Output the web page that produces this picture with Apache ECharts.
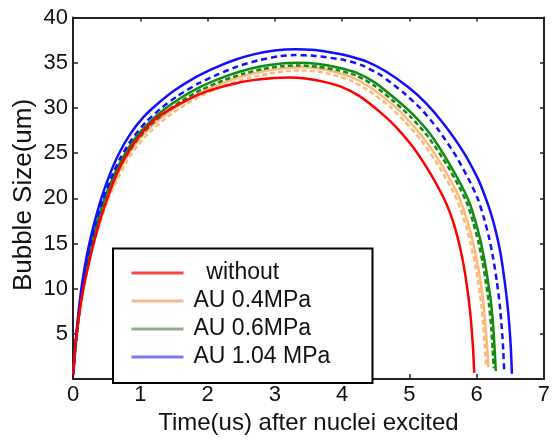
<!DOCTYPE html>
<html>
<head>
<meta charset="utf-8">
<script src="https://cdn.jsdelivr.net/npm/echarts@6/dist/echarts.min.js"></script>
<style>
html,body{margin:0;padding:0;background:#fff;}
#chart{width:553px;height:440px;}
</style>
</head>
<body>
<div id="chart"></div>
<script>
// ---- data (time in us, bubble size in um) ----
var xTicks = [0, 1, 2, 3, 4, 5, 6, 7];
var yTicks = [0, 5, 10, 15, 20, 25, 30, 35, 40];
var legendNames = ['without', 'AU 0.4MPa', 'AU 0.6MPa', 'AU 1.04 MPa'];

var redWithout = [[0.005,0.5],[0.03,3.2],[0.06,5.4],[0.10,7.6],[0.15,9.8],[0.22,12.3],[0.30,14.8],[0.40,17.5],[0.51,20.0],[0.65,22.7],[0.81,25.0],[1.0,27.0],[1.2,28.6],[1.41,29.7],[1.7,30.9],[2.0,31.85],[2.38,32.65],[2.7,33.1],[3.0,33.32],[3.2,33.37],[3.45,33.25],[3.75,32.85],[4.0,32.3],[4.26,31.3],[4.57,29.5],[4.8,27.9],[5.04,25.8],[5.3,22.9],[5.5,20.2],[5.6,18.5],[5.68,16.7],[5.75,14.7],[5.81,12.5],[5.86,10.1],[5.90,7.7],[5.93,5.2],[5.95,3.0],[5.965,0.7]];

var orange04a = [[0.008,0.8],[0.03,3],[0.06,5.1],[0.1,7.5],[0.145,9.8],[0.2,11.9],[0.26,13.9],[0.34,16.2],[0.49,19.6],[0.63,22.1],[0.78,24.3],[0.96,26.3],[1.16,27.9],[1.4,29.4],[1.66,30.7],[1.96,31.9],[2.28,32.9],[2.6,33.65],[2.9,34.15],[3.15,34.42],[3.4,34.5],[3.65,34.35],[3.88,34.0],[4.14,33.4],[4.40,32.36],[4.73,30.5],[4.96,28.85],[5.21,26.7],[5.48,23.7],[5.69,20.9],[5.79,19.1],[5.87,17.3],[5.945,15.2],[6.01,12.9],[6.06,10.8],[6.10,8.5],[6.13,6.0],[6.155,3.6],[6.175,1.3]];
var orange04b = [[0.008,0.8],[0.033,3],[0.064,5.1],[0.105,7.5],[0.15,9.8],[0.206,11.9],[0.27,13.9],[0.35,16.1],[0.5,19.4],[0.645,21.9],[0.8,24.1],[0.98,26.0],[1.18,27.6],[1.42,29.1],[1.68,30.4],[1.98,31.6],[2.3,32.6],[2.62,33.33],[2.92,33.8],[3.17,34.08],[3.4,34.15],[3.65,34.0],[3.87,33.65],[4.12,33.05],[4.38,32.0],[4.71,30.15],[4.93,28.5],[5.18,26.4],[5.45,23.4],[5.66,20.6],[5.76,18.8],[5.84,17.0],[5.915,14.9],[5.98,12.6],[6.03,10.5],[6.07,8.2],[6.10,5.8],[6.123,3.5],[6.142,1.3]];

var green06a = [[0.006,0.8],[0.026,2.8],[0.056,5],[0.095,7.6],[0.135,9.9],[0.18,11.9],[0.24,14.0],[0.32,16.4],[0.46,19.8],[0.6,22.4],[0.74,24.5],[0.92,26.6],[1.12,28.3],[1.35,29.8],[1.6,31.1],[1.9,32.35],[2.2,33.3],[2.5,34.05],[2.8,34.6],[3.1,34.92],[3.35,35.0],[3.65,34.85],[3.95,34.45],[4.21,33.9],[4.49,32.8],[4.81,30.9],[5.05,29.3],[5.31,27.1],[5.58,24.0],[5.79,21.2],[5.90,19.4],[5.98,17.5],[6.055,15.4],[6.118,13.1],[6.17,10.8],[6.215,8.4],[6.248,5.7],[6.268,3.3],[6.285,0.9]];
var green06b = [[0.006,0.8],[0.028,2.8],[0.058,5],[0.098,7.6],[0.14,9.9],[0.185,11.9],[0.245,14.0],[0.33,16.4],[0.47,19.7],[0.61,22.2],[0.76,24.3],[0.94,26.3],[1.14,28.0],[1.37,29.5],[1.62,30.8],[1.92,32.05],[2.22,33.0],[2.52,33.75],[2.82,34.3],[3.1,34.62],[3.35,34.7],[3.65,34.55],[3.95,34.15],[4.2,33.6],[4.47,32.5],[4.78,30.65],[5.02,29.0],[5.28,26.8],[5.55,23.8],[5.76,21.0],[5.87,19.2],[5.95,17.3],[6.025,15.2],[6.09,12.9],[6.14,10.6],[6.185,8.2],[6.218,5.6],[6.238,3.3],[6.255,1.2]];

var blue104a = [[0.004,0.5],[0.02,2.5],[0.05,5],[0.085,7.6],[0.126,10.1],[0.17,12.2],[0.22,14.2],[0.3,16.8],[0.43,20.2],[0.55,22.7],[0.68,24.9],[0.85,27.1],[1.05,29.0],[1.25,30.4],[1.5,31.9],[1.8,33.3],[2.1,34.4],[2.4,35.3],[2.7,35.95],[3.0,36.35],[3.3,36.5],[3.6,36.4],[3.9,36.05],[4.1,35.75],[4.376,35.1],[4.66,34.0],[5.0,32.2],[5.25,30.5],[5.514,28.2],[5.798,25.2],[6.017,22.2],[6.126,20.2],[6.214,18.3],[6.29,16.2],[6.356,13.9],[6.41,11.2],[6.455,8.5],[6.487,5.9],[6.509,3.4],[6.525,0.6]];
var blue104b = [[0.004,0.5],[0.022,2.5],[0.053,5],[0.09,7.6],[0.13,10.0],[0.175,12.0],[0.23,14.0],[0.31,16.5],[0.44,19.8],[0.57,22.3],[0.7,24.4],[0.88,26.6],[1.08,28.4],[1.3,29.9],[1.55,31.3],[1.85,32.65],[2.15,33.7],[2.45,34.6],[2.75,35.25],[3.05,35.7],[3.3,35.85],[3.6,35.75],[4.03,35.3],[4.3,34.7],[4.58,33.6],[4.91,31.7],[5.16,30.0],[5.42,27.7],[5.70,24.6],[5.91,21.7],[6.02,19.9],[6.106,17.9],[6.18,15.8],[6.246,13.4],[6.30,10.85],[6.343,8.3],[6.375,5.6],[6.396,3.2],[6.41,0.9]];

var chart = echarts.init(document.getElementById('chart'), null, {renderer: 'canvas'});
var FONT = 'Liberation Sans, Arial, sans-serif';
var TXT = '#111';

function line(name, data, color, type, width) {
  return {
    name: name, type: 'line', data: data, showSymbol: false,
    smooth: 0.2,
    lineStyle: {color: color, width: width, type: type, join: 'round'},
    itemStyle: {color: color}, z: 2, animation: false
  };
}

var option = {
  animation: false,
  backgroundColor: '#fff',
  grid: {left: 73, right: -2, top: 17.5, bottom: 45, containLabel: false},
  xAxis: [{
    type: 'value', min: xTicks[0], max: xTicks[xTicks.length - 1], interval: 1,
    position: 'bottom',
    name: 'Time(us) after nuclei excited', nameLocation: 'middle', nameGap: 16,
    nameTextStyle: {fontFamily: FONT, fontSize: 24, color: TXT},
    axisLine: {show: true, onZero: false, lineStyle: {color: '#222', width: 2}},
    axisTick: {show: true, inside: true, length: 5, lineStyle: {color: '#222', width: 1.5}},
    axisLabel: {fontFamily: FONT, fontSize: 22, color: TXT, margin: 5},
    splitLine: {show: false}
  }, {
    type: 'value', min: xTicks[0], max: xTicks[xTicks.length - 1], interval: 1,
    position: 'top',
    axisLine: {show: true, onZero: false, lineStyle: {color: '#222', width: 2}},
    axisTick: {show: true, inside: true, length: 4, lineStyle: {color: '#222', width: 1.5}},
    axisLabel: {show: false}, splitLine: {show: false}
  }],
  yAxis: [{
    type: 'value', min: yTicks[0], max: yTicks[yTicks.length - 1], interval: 5,
    position: 'left',
    axisLine: {show: true, onZero: false, lineStyle: {color: '#222', width: 2}},
    axisTick: {show: true, inside: true, length: 5, lineStyle: {color: '#222', width: 1.5}},
    axisLabel: {fontFamily: FONT, fontSize: 22, color: TXT, margin: 5,
      formatter: function (v) { return v === 0 ? '' : String(v); }},
    splitLine: {show: false}
  }, {
    type: 'value', min: yTicks[0], max: yTicks[yTicks.length - 1], interval: 5,
    position: 'right',
    axisLine: {show: true, onZero: false, lineStyle: {color: '#222', width: 2}},
    axisTick: {show: true, inside: true, length: 4, lineStyle: {color: '#222', width: 1.5}},
    axisLabel: {show: false}, splitLine: {show: false}
  }],
  legend: {
    orient: 'vertical', left: 131.5, top: 261.5, padding: 0, itemGap: 5,
    itemWidth: 52, itemHeight: 3, icon: 'rect', z: 6,
    textStyle: {fontFamily: FONT, fontSize: 23, color: TXT, lineHeight: 23, padding: [0, 0, 0, 5]},
    formatter: function (n) { return n === 'without' ? '  without' : n; },
    data: [
      {name: legendNames[0], itemStyle: {color: '#ff4646'}},
      {name: legendNames[1], itemStyle: {color: '#f7b88e'}},
      {name: legendNames[2], itemStyle: {color: '#93af8b'}},
      {name: legendNames[3], itemStyle: {color: '#7878f4'}}
    ]
  },
  graphic: [{
    type: 'rect', z: 5,
    shape: {x: 113, y: 248.5, width: 259.5, height: 134.5},
    style: {fill: '#fff', stroke: '#000', lineWidth: 2}
  }, {
    type: 'text', z: 5, x: 23.5, y: 195, rotation: Math.PI / 2,
    style: {text: 'Bubble Size(um)', fontFamily: FONT, fontSize: 26, fill: TXT,
      align: 'center', verticalAlign: 'middle'}
  }],
  series: [
    line(legendNames[1], orange04b, '#fcb97c', [5, 3], 2.5),
    line(legendNames[1] + ' b', orange04a, '#fcb97c', 'solid', 2.5),
    line(legendNames[2] + ' b', green06b, '#128a12', [5, 3], 2.5),
    line(legendNames[2], green06a, '#128a12', 'solid', 2.5),
    line(legendNames[3] + ' b', blue104b, '#1010ff', [6, 4], 2.5),
    line(legendNames[3], blue104a, '#1010ff', 'solid', 2.5),
    line(legendNames[0], redWithout, '#ff0000', 'solid', 2.5)
  ]
};
chart.setOption(option);
</script>
</body>
</html>
